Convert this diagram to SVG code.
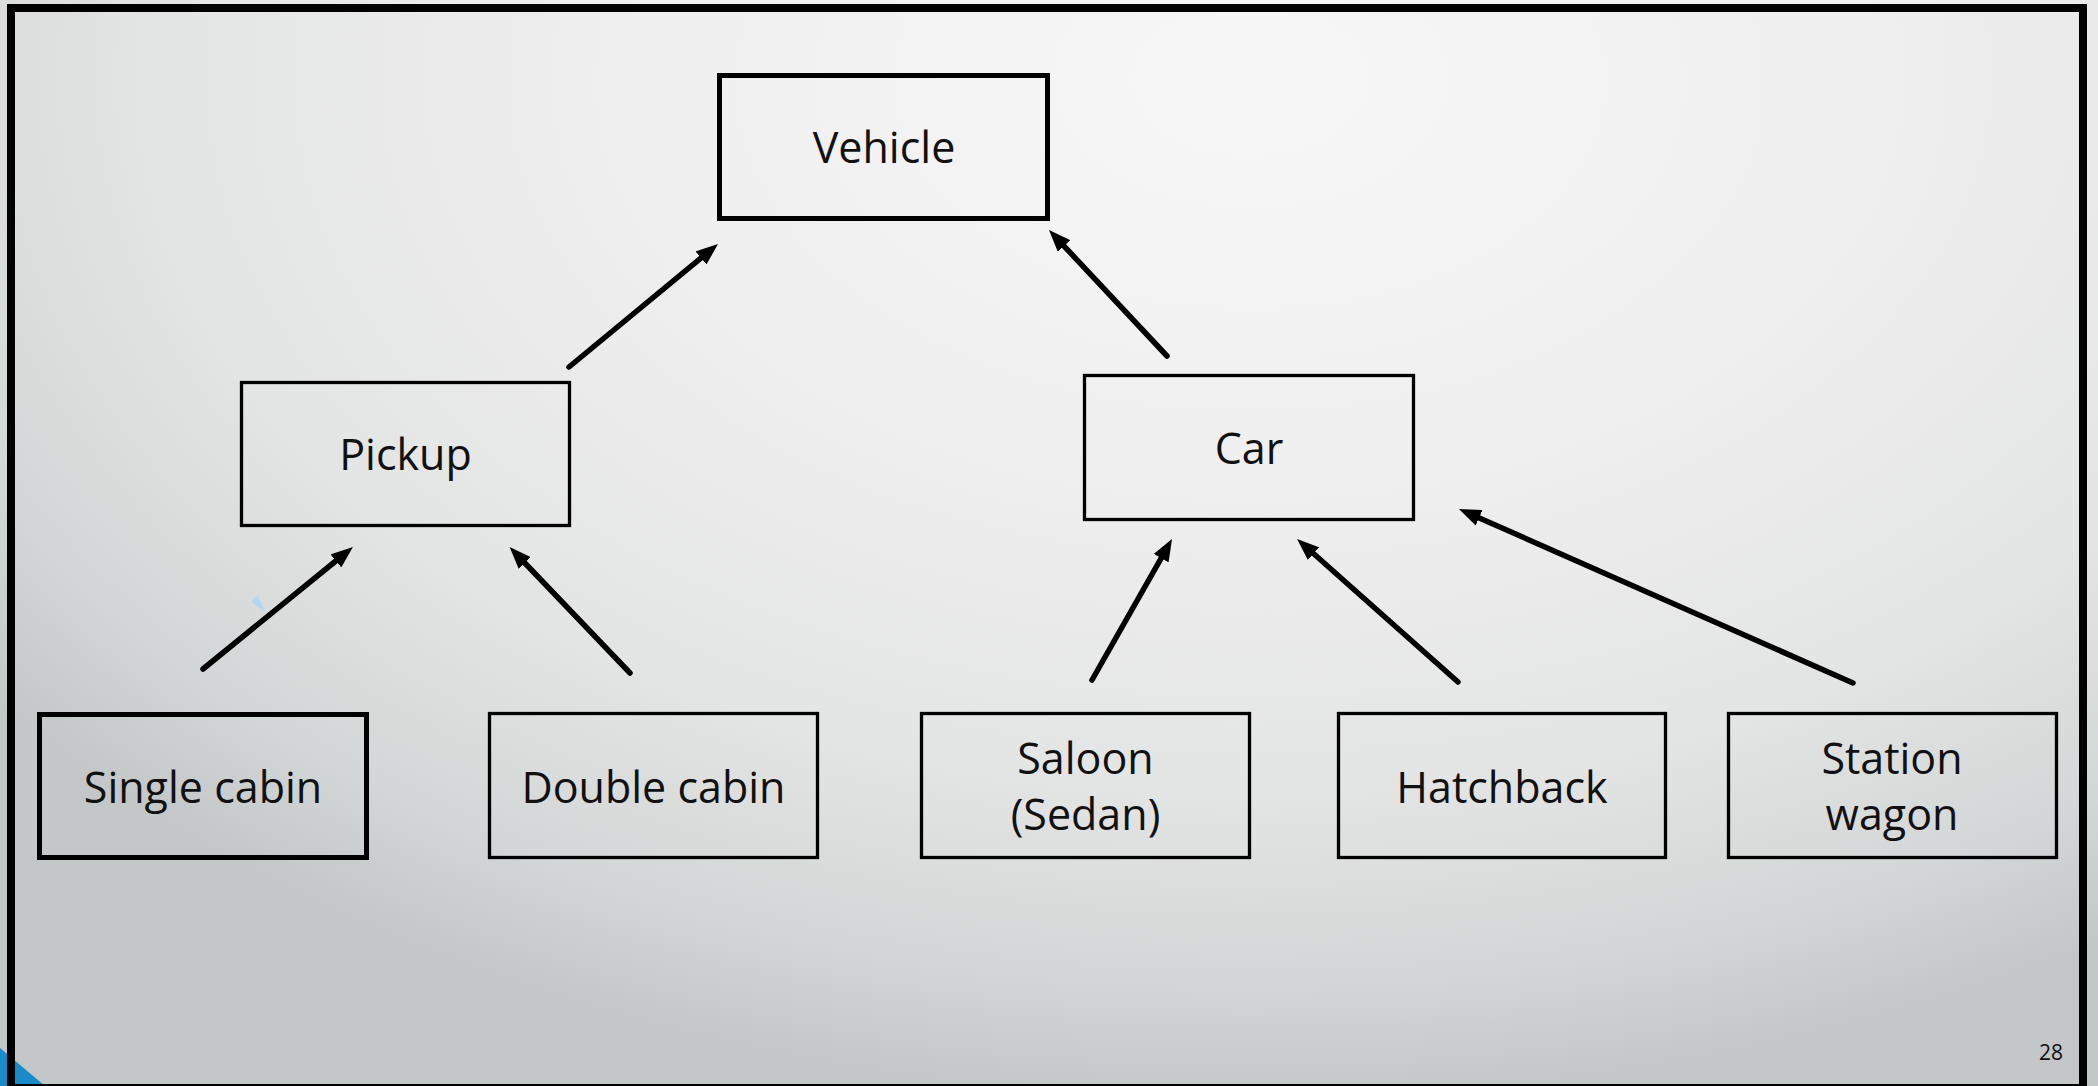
<svg xmlns="http://www.w3.org/2000/svg" width="2098" height="1086" viewBox="0 0 2098 1086">
<defs>
<radialGradient id="bg" gradientUnits="userSpaceOnUse" cx="1250" cy="80" r="1020" gradientTransform="translate(1250 80) scale(1.55 1) translate(-1250 -80)">
<stop offset="0" stop-color="#f7f7f7"/>
<stop offset="0.4" stop-color="#efefef"/>
<stop offset="0.7" stop-color="#e3e4e4"/>
<stop offset="0.88" stop-color="#d4d7d7"/>
<stop offset="1" stop-color="#c4c7c8"/>
</radialGradient>
<marker id="ah" viewBox="0 0 10 10" refX="5" refY="5" markerWidth="22" markerHeight="17" markerUnits="userSpaceOnUse" orient="auto" preserveAspectRatio="none">
<path d="M0,0 L10,5 L0,10 z" fill="#000"/>
</marker>
<style>
.box{fill:none;stroke:#000;stroke-width:3.3}
.thick{stroke-width:5}
.lbl{font-family:"Open Sans","Noto Sans",sans-serif;font-size:43px;fill:#111;text-anchor:middle}
.conn line{stroke:#000;stroke-width:5.5;stroke-linecap:round;marker-end:url(#ah)}
</style>
</defs>
<rect x="0" y="0" width="2098" height="1086" fill="url(#bg)"/>
<polygon points="0,1048 45,1086 0,1086" fill="#1a8ac9"/>
<rect x="11" y="8" width="2072" height="1080" fill="none" stroke="#000" stroke-width="8"/>
<polygon points="251,602 258,595 265,612" fill="#b3d7f2"/>
<g id="connectors" class="conn">
<line x1="569" y1="367" x2="709.5" y2="251"/>
<line x1="1167" y1="356" x2="1056.5" y2="238"/>
<line x1="203" y1="669" x2="344.4" y2="554"/>
<line x1="630" y1="673" x2="517.2" y2="555"/>
<line x1="1092" y1="680" x2="1166.6" y2="548.6"/>
<line x1="1458" y1="682" x2="1305.3" y2="546.3"/>
<line x1="1853" y1="683" x2="1469" y2="513.4"/>
</g>
<g id="vehicle">
<rect class="box thick" x="719.5" y="75.5" width="328" height="143"/>
<text class="lbl" x="884" y="163">Vehicle</text>
</g>
<g id="pickup">
<rect class="box" x="241.5" y="382.5" width="328" height="143"/>
<text class="lbl" x="405.5" y="470">Pickup</text>
</g>
<g id="car">
<rect class="box" x="1084.5" y="375.5" width="329" height="144"/>
<text class="lbl" x="1249" y="464">Car</text>
</g>
<g id="single-cabin">
<rect class="box thick" x="39.5" y="714.5" width="327" height="143"/>
<text class="lbl" x="203" y="803">Single cabin</text>
</g>
<g id="double-cabin">
<rect class="box" x="489.5" y="713.5" width="328" height="144"/>
<text class="lbl" x="653.5" y="803">Double cabin</text>
</g>
<g id="saloon">
<rect class="box" x="921.5" y="713.5" width="328" height="144"/>
<text class="lbl" x="1085.5" y="774">Saloon</text>
<text class="lbl" x="1085.5" y="830">(Sedan)</text>
</g>
<g id="hatchback">
<rect class="box" x="1338.5" y="713.5" width="327" height="144"/>
<text class="lbl" x="1502" y="803">Hatchback</text>
</g>
<g id="station-wagon">
<rect class="box" x="1728.5" y="713.5" width="328" height="144"/>
<text class="lbl" x="1892" y="774">Station</text>
<text class="lbl" x="1892" y="830">wagon</text>
</g>
<text x="2063" y="1060" font-family="Open Sans, Noto Sans, sans-serif" font-size="21" fill="#111" text-anchor="end">28</text>
</svg>
